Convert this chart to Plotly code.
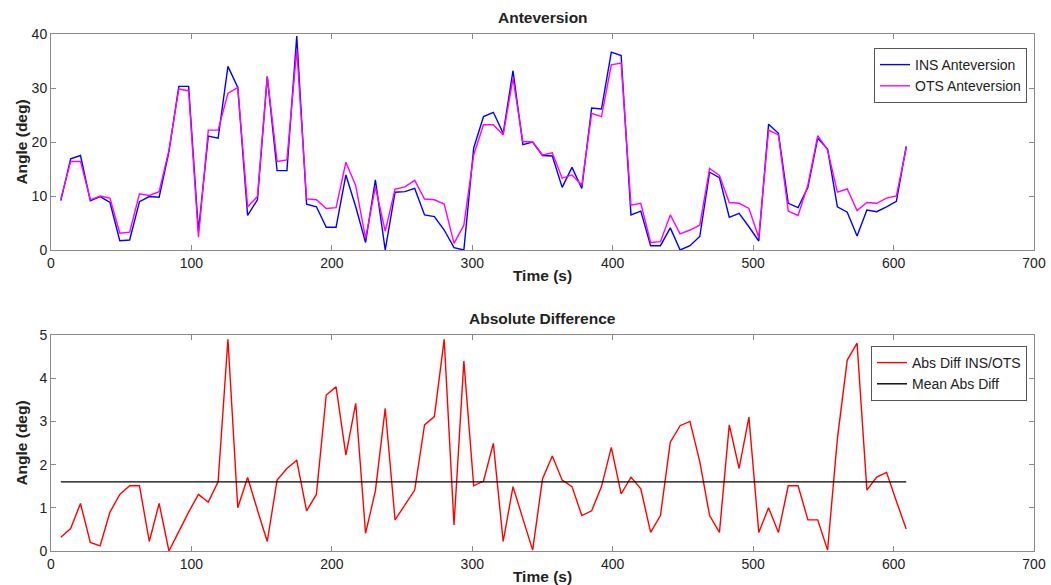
import plotly.graph_objects as go

time_s = [7 * k for k in range(1, 88)]

ins_antev = [9.15, 16.9, 17.5, 9.1, 9.9, 8.8, 1.73, 1.85, 8.96, 9.9,
             9.77, 18.2, 30.3, 30.3, 3.5, 21.1, 20.7, 34.0, 30.1, 6.4,
             9.3, 32.1, 14.7, 14.7, 39.6, 8.5, 8.0, 4.2, 4.2, 13.9,
             8.0, 1.4, 13.0, 0.0, 10.7, 10.8, 11.4, 6.5, 6.2, 3.7,
             0.43, 0.0, 18.9, 24.7, 25.5, 21.6, 33.2, 19.5, 20.0, 17.5,
             17.4, 11.6, 15.3, 11.4, 26.3, 26.1, 36.65, 36.0, 6.5, 7.2,
             0.8, 0.8, 4.1, 0.0, 0.8, 2.5, 14.4, 13.4, 6.06, 6.8,
             4.3, 1.67, 23.3, 21.6, 8.65, 7.85, 11.6, 20.7, 18.7, 8.0,
             7.0, 2.6, 7.4, 7.1, 8.0, 9.0, 19.2]

ots_antev = [9.45, 16.4, 16.4, 9.3, 10.0, 9.6, 3.1, 3.3, 10.4, 10.1,
             10.8, 18.5, 29.8, 29.5, 2.35, 22.2, 22.2, 29.0, 30.1, 8.0,
             9.9, 32.1, 16.4, 16.7, 37.1, 9.45, 9.3, 7.7, 7.85, 16.25,
             11.9, 2.16, 11.7, 3.5, 11.3, 11.7, 12.9, 9.45, 9.3, 8.5,
             1.24, 4.6, 17.6, 23.2, 23.2, 21.3, 31.8, 20.1, 20.0, 17.6,
             18.0, 13.3, 13.9, 12.05, 25.3, 24.7, 34.3, 34.6, 8.3, 8.65,
             1.4, 1.55, 6.5, 3.0, 3.7, 4.6, 15.1, 13.8, 8.8, 8.65,
             7.7, 2.3, 22.2, 21.3, 7.2, 6.4, 12.05, 21.2, 18.5, 10.7,
             11.3, 7.3, 8.8, 8.65, 9.6, 10.0, 18.85]

abs_diff = [0.32, 0.52, 1.1, 0.2, 0.12, 0.9, 1.31, 1.51, 1.51, 0.22,
            1.1, 0.0, 0.45, 0.9, 1.31, 1.13, 1.6, 4.9, 1.0, 1.7,
            0.95, 0.22, 1.64, 1.91, 2.1, 0.93, 1.31, 3.61, 3.8, 2.22,
            3.42, 0.41, 1.39, 3.3, 0.72, 1.06, 1.41, 2.92, 3.11, 4.9,
            0.6, 4.4, 1.51, 1.62, 2.49, 0.22, 1.49, 0.75, 0.02, 1.67,
            2.2, 1.64, 1.49, 0.82, 0.93, 1.49, 2.4, 1.32, 1.71, 1.44,
            0.43, 0.82, 2.52, 2.9, 3.0, 2.07, 0.82, 0.43, 2.92, 1.91,
            3.1, 0.43, 1.0, 0.43, 1.51, 1.51, 0.72, 0.72, 0.02, 2.6,
            4.42, 4.81, 1.41, 1.71, 1.82, 1.15, 0.51]

mean_abs_diff = 1.6
mean_x = [time_s[0], time_s[-1]]
mean_y = [mean_abs_diff, mean_abs_diff]

FONT = "Liberation Sans, Arial, sans-serif"
AX = "#8a8a8a"
TXT = "#222222"

fig = go.Figure()
fig.add_trace(go.Scatter(x=time_s, y=ins_antev, mode="lines", name="INS Anteversion",
                         line=dict(color="#0000FF", width=1.4), xaxis="x", yaxis="y", legend="legend"))
fig.add_trace(go.Scatter(x=time_s, y=ots_antev, mode="lines", name="OTS Anteversion",
                         line=dict(color="#FF00FF", width=1.4), xaxis="x", yaxis="y", legend="legend"))
fig.add_trace(go.Scatter(x=time_s, y=abs_diff, mode="lines", name="Abs Diff INS/OTS",
                         line=dict(color="#FF0000", width=1.4), xaxis="x2", yaxis="y2", legend="legend2"))
fig.add_trace(go.Scatter(x=mean_x, y=mean_y, mode="lines", name="Mean Abs Diff",
                         line=dict(color="#000000", width=1.4), xaxis="x2", yaxis="y2", legend="legend2"))

axis_common = dict(showgrid=False, zeroline=False, showline=True, linecolor=AX, linewidth=1,
                   mirror="allticks", ticks="inside", ticklen=5, tickcolor=AX, automargin=False,
                   tickfont=dict(family=FONT, size=14, color=TXT))
title_font = dict(family=FONT, size=15.5, color=TXT)

xd = [51 / 1051, 1034 / 1051]
fig.update_layout(
    width=1051, height=585, autosize=False,
    margin=dict(l=0, r=0, t=0, b=0, pad=0),
    paper_bgcolor="white", plot_bgcolor="white",
    font=dict(family=FONT, size=14, color=TXT),
    xaxis=dict(domain=xd, anchor="y", range=[0, 700], dtick=100,
               title=dict(text="<b>Time (s)</b>", font=title_font, standoff=0), **axis_common),
    yaxis=dict(domain=[335 / 585, 551 / 585], anchor="x", range=[0, 40], dtick=10,
               title=dict(text="<b>Angle (deg)</b>", font=title_font, standoff=0), **axis_common),
    xaxis2=dict(domain=xd, anchor="y2", range=[0, 700], dtick=100,
                title=dict(text="<b>Time (s)</b>", font=title_font, standoff=0), **axis_common),
    yaxis2=dict(domain=[34 / 585, 250 / 585], anchor="x2", range=[0, 5], dtick=1,
                title=dict(text="<b>Angle (deg)</b>", font=title_font, standoff=7), **axis_common),
    legend=dict(x=1027 / 1051, y=(585 - 48) / 585, xanchor="right", yanchor="top",
                bgcolor="white", bordercolor="#555555", borderwidth=1,
                font=dict(family=FONT, size=14, color=TXT), tracegroupgap=0, itemwidth=30),
    legend2=dict(x=1027 / 1051, y=(585 - 346) / 585, xanchor="right", yanchor="top",
                 bgcolor="white", bordercolor="#555555", borderwidth=1,
                 font=dict(family=FONT, size=14, color=TXT), tracegroupgap=0, itemwidth=30),
    annotations=[
        dict(text="<b>Anteversion</b>", x=0.5 * (xd[0] + xd[1]), y=(585 - 17) / 585,
             xref="paper", yref="paper", showarrow=False, font=title_font, yanchor="middle"),
        dict(text="<b>Absolute Difference</b>", x=0.5 * (xd[0] + xd[1]), y=(585 - 318) / 585,
             xref="paper", yref="paper", showarrow=False, font=title_font, yanchor="middle"),
    ],
)

fig.write_html("out.html", config={"displayModeBar": False},
               post_script="document.body.style.margin='0';document.body.style.overflow='hidden';")
